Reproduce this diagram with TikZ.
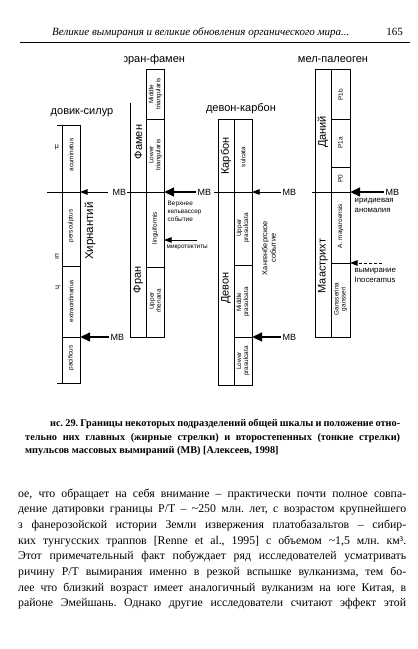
\documentclass[tikz,border=0pt]{standalone}
\usepackage{fontspec}
\setmainfont{Liberation Serif}
\newfontfamily\dsans{Liberation Sans}
\usetikzlibrary{arrows.meta}
\frenchspacing
\begin{document}
\begin{tikzpicture}[x=1pt,y=-1pt,
 frame/.style={line width=0.85pt},
 ttl/.style={font=\dsans\fontsize{11}{13}\selectfont, inner sep=0},
 stg/.style={font=\dsans\fontsize{11}{13}\selectfont, rotate=90, inner sep=0},
 zn/.style={font=\dsans\fontsize{6.4}{7}\selectfont, rotate=90, inner sep=0, align=center},
 mbl/.style={font=\dsans\fontsize{9}{10}\selectfont, inner sep=1.5pt},
 nt/.style={font=\dsans\fontsize{6.4}{8.4}\selectfont, inner sep=0, align=left},
 nt2/.style={font=\dsans\fontsize{7.8}{9.6}\selectfont, inner sep=0, align=left},
 frag/.style={font=\dsans\fontsize{7}{8}\selectfont, inner sep=0},
 bigarr/.style={line width=2.8pt, -{Triangle[length=10pt,width=8.5pt]}},
 smarr/.style={line width=0.9pt, -{Triangle[length=7.5pt,width=5.5pt]}},
 dsharr/.style={line width=0.9pt, dash pattern=on 3pt off 2pt, -{Triangle[length=7.5pt,width=5.5pt]}},
 body/.style={anchor=base west, inner sep=0, font=\frenchspacing\fontsize{11.8}{14}\selectfont},
 capt/.style={anchor=base west, inner sep=0, font=\frenchspacing\bfseries\fontsize{10.3}{12}\selectfont},
]
\useasboundingbox (0,0) rectangle (418,649);
\fill[white] (0,0) rectangle (418,649);

% header
\node[anchor=base west, inner sep=0, font=\itshape\fontsize{11}{13}\selectfont] (hdr) at (52,35) {Великие вымирания и великие обновления органического мира...};
\node[anchor=base east, inner sep=0, font=\fontsize{11}{13}\selectfont] (pg) at (403,35) {165};
\draw[line width=0.8pt] (20,42) -- (410,42);

% titles
\begin{scope}
\clip (124,45) rectangle (210,75);
\node[ttl] (t2) at (152,60) {фран-фамен};
\end{scope}
\node[ttl] (t4) at (333,60) {мел-палеоген};
\node[ttl] (t1) at (82,113) {довик-силур};
\node[ttl] (t3) at (241,109) {девон-карбон};

% ---------- column 1 ----------
\draw[frame] (57,125) -- (80,125) -- (80,383) -- (57,383);
\draw[frame] (62,125) -- (62,383);
\draw[frame] (47,192) -- (80,192);
\draw[frame] (62,266) -- (80,266);
\draw[frame] (62,337) -- (80,337);
\coordinate (c1a) at (80,192);
\coordinate (c1b) at (80,337);
\node[zn] (z1a) at (71,155) {acuminatus};
\node[zn] (z1b) at (71,226) {persculptus};
\node[zn] (z1c) at (71,301) {extraordinarius};
\node[zn] (z1d) at (71,358) {pacificus};
\node[stg, font=\dsans\fontsize{11.5}{13}\selectfont] (s1) at (90,231) {Хирнантий};
\node[frag] (f1) at (57,147) {μ};
\node[frag, rotate=90] (f2) at (57,257) {ıп};
\node[frag, rotate=90] (f3) at (58,288) {ɥ};

% ---------- column 2 ----------
\draw[frame] (130,103) -- (130,337) -- (164,337) -- (164,69) -- (146.7,69) -- (146.7,337);
\draw[frame] (146.7,119) -- (164,119);
\draw[frame] (127,192) -- (164,192);
\draw[frame] (146.7,267) -- (164,267);
\coordinate (c2a) at (164,192);
\coordinate (c2b) at (164,240);
\node[zn] (z2a) at (155.3,94) {Middle\\triangularis};
\node[zn] (z2b) at (155.3,155) {Lower\\triangularis};
\node[zn] (z2c) at (155.3,228) {linguiformis};
\node[zn] (z2d) at (155.3,301) {Upper\\rhenana};
\node[stg] (s2a) at (138.3,142) {Фамен};
\node[stg] (s2b) at (138.3,280) {Фран};

% ---------- column 3 ----------
\draw[frame] (218,119) rectangle (252,385);
\draw[frame] (234,119) -- (234,385);
\draw[frame] (214,192) -- (252,192);
\draw[frame] (234,265) -- (252,265);
\draw[frame] (234,337) -- (252,337);
\coordinate (c3a) at (252,192);
\coordinate (c3b) at (252,337);
\node[zn] (z3a) at (243,157) {sulcata};
\node[zn] (z3b) at (243,228) {Upper\\prasulcata};
\node[zn] (z3c) at (243,302) {Middle\\prasulcata};
\node[zn] (z3d) at (243,361) {Lower\\prasulcata};
\node[stg] (s3a) at (226,156) {Карбон};
\node[stg] (s3b) at (226,288) {Девон};
\node[zn, font=\dsans\fontsize{7.4}{8.6}\selectfont] (hang) at (269,248) {Хангенбергское\\событие};

% ---------- column 4 ----------
\draw[frame] (315,69) rectangle (350,337);
\draw[frame] (331,69) -- (331,337);
\draw[frame] (331,119) -- (350,119);
\draw[frame] (331,167) -- (350,167);
\draw[frame] (312,192) -- (350,192);
\draw[frame] (331,263) -- (350,263);
\coordinate (c4a) at (350,192);
\coordinate (c4b) at (350,263);
\node[zn] (z4a) at (340.5,95) {P1b};
\node[zn] (z4b) at (340.5,143) {P1a};
\node[zn] (z4c) at (340.5,179) {P0};
\node[zn] (z4d) at (340.5,226) {A. mayaroensis};
\node[zn] (z4e) at (340.5,299) {Gansserina\\gansseri};
\node[stg] (s4a) at (323,132) {Даний};
\node[stg] (s4b) at (323,266) {Маастрихт};

% ---------- MB labels & arrows ----------
\node[mbl, anchor=west] (m1) at (111,192) {МВ};
\draw[smarr] (m1.west) ++(-3,0) -- (c1a);
\node[mbl, anchor=west] (m2) at (109,337) {МВ};
\draw[bigarr] (m2.west) -- (c1b);
\node[mbl, anchor=west] (m3) at (196,192) {МВ};
\draw[bigarr] (m3.west) -- (c2a);
\node[mbl, anchor=west] (m4) at (281,192) {МВ};
\draw[smarr] (m4.west) -- (c3a);
\node[mbl, anchor=west] (m5) at (281,337) {МВ};
\draw[bigarr] (m5.west) -- (c3b);
\node[mbl, anchor=west] (m6) at (384,192) {МВ};
\draw[bigarr] (m6.west) -- (c4a);
\coordinate (e2) at (197,240);
\draw[smarr] (e2) -- (c2b);
\coordinate (e4) at (382,263);
\draw[dsharr] (e4) -- (c4b);

\node[nt, anchor=north west] (kel) at (167.5,200.5) {Верхнее\\кельвассер\\событие};
\node[nt, anchor=west] (mik) at (166.5,247) {микротектиты};
\node[nt2, anchor=north west] (ir) at (354.5,198.5) {иридиевая\\аномалия};
\node[nt2, anchor=north west] (ino) at (354.5,268) {вымирание\\Inoceramus};

% ---------- caption ----------
\node[capt] (cap1) at (50,426.5) {\makebox[350pt][s]{ис. 29. Границы некоторых подразделений общей шкалы и положение отно-}};
\node[capt] (cap2) at (25,440.5) {\makebox[375pt][s]{тельно них главных (жирные стрелки) и второстепенных (тонкие стрелки)}};
\node[capt] (cap3) at (25,453.5) {мпульсов массовых вымираний (МВ) [Алексеев, 1998]};

% ---------- body text ----------
\node[body] (b1) at (18,497) {\makebox[388pt][s]{ое, что обращает на себя внимание – практически почти полное совпа-}};
\node[body] (b2) at (18,512.7) {\makebox[388pt][s]{дение датировки границы P/T – \textasciitilde250 млн. лет, с возрастом крупнейшего}};
\node[body] (b3) at (18,528.4) {\makebox[388pt][s]{з фанерозойской истории Земли извержения платобазальтов – сибир-}};
\node[body] (b4) at (18,544.1) {\makebox[388pt][s]{ких тунгусских траппов [Renne et al., 1995] с объемом \textasciitilde1,5 млн. км³.}};
\node[body] (b5) at (18,559.8) {\makebox[388pt][s]{Этот примечательный факт побуждает ряд исследователей усматривать}};
\node[body] (b6) at (18,575.5) {\makebox[388pt][s]{ричину P/T вымирания именно в резкой вспышке вулканизма, тем бо-}};
\node[body] (b7) at (18,591.2) {\makebox[388pt][s]{лее что близкий возраст имеет аналогичный вулканизм на юге Китая, в}};
\node[body] (b8) at (18,606.9) {\makebox[388pt][s]{районе Эмейшань. Однако другие исследователи считают эффект этой}};
\end{tikzpicture}
\end{document}
